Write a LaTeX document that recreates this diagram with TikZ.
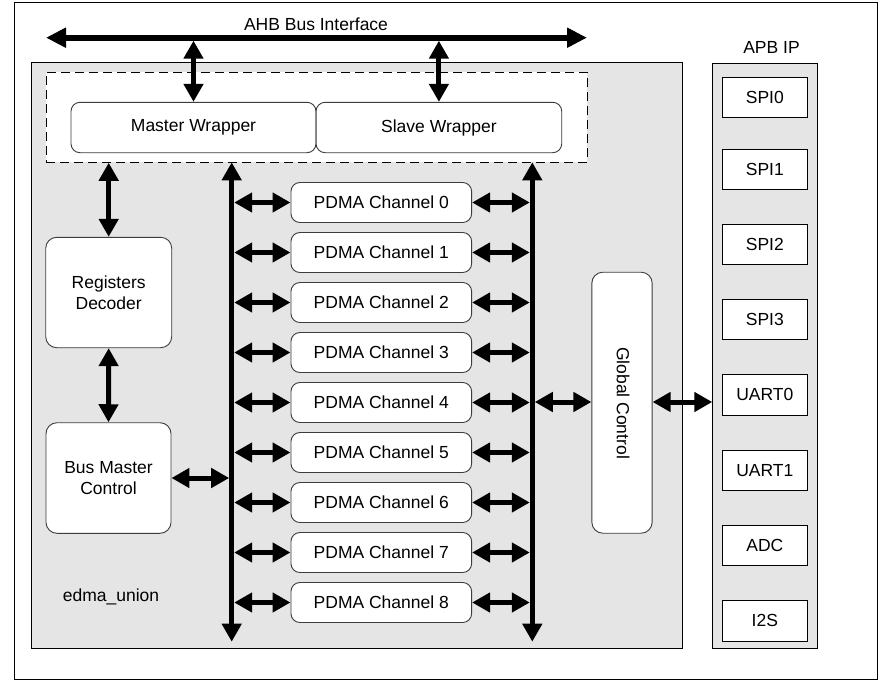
\documentclass[tikz,border=0pt]{standalone}
\usepackage{fontspec}
\setmainfont{Liberation Sans}
\usetikzlibrary{arrows.meta}
\definecolor{bggray}{RGB}{229,229,229}
\definecolor{edgegray}{RGB}{60,60,60}
\begin{document}
\begin{tikzpicture}[x=1pt,y=-1pt,
  font=\fontsize{17.5}{21}\selectfont,
  rbox/.style={draw=edgegray, line width=0.9pt, fill=white, rounded corners=9pt, inner sep=0pt, align=center},
  sbox/.style={draw=black, line width=1pt, fill=white, inner sep=0pt, minimum width=85pt, minimum height=40pt},
  arr/.style={line width=5pt, {Triangle[length=18pt,width=19pt]}-{Triangle[length=18pt,width=19pt]}},
  busarr/.style={line width=6pt, {Triangle[length=20pt,width=19pt]}-{Triangle[length=20pt,width=19pt]}},
  frame/.style={draw=black, line width=1pt},
]
\useasboundingbox (0,0) rectangle (889,688);
% outer frame
\draw[frame] (14,2) rectangle (877,679.5);
% containers
\draw[frame, fill=bggray] (31.5,62.3) rectangle (682.3,648.3);
\draw[frame, fill=bggray] (712.3,63) rectangle (817.3,648.3);
\node (apblabel) at (771.5,47) {APB IP};
\node (ahblabel) at (316,24) {AHB Bus Interface};
\node (edma) at (111,597) {edma\_union};
% dashed wrapper area
\node[draw=black, dash pattern=on 9pt off 5pt, fill=white, line width=0.9pt, minimum width=541pt, minimum height=90pt, inner sep=0pt] (wrap) at (316.5,117.3) {};
\node[rbox, minimum width=245pt, minimum height=50.4pt] (mw) at (193.5,127.5) {Master Wrapper};
\node[rbox, minimum width=245.7pt, minimum height=50.4pt] (sw) at (438.9,127.5) {Slave Wrapper};
% left blocks
\node[rbox, rounded corners=11pt, minimum width=126pt, minimum height=110.4pt] (reg) at (108.7,292.5) {Registers\\Decoder};
\node[rbox, rounded corners=11pt, minimum width=125pt, minimum height=110.6pt] (bmc) at (108.5,478) {Bus Master\\Control};
% global control
\node[rbox, rounded corners=11pt, minimum width=60.3pt, minimum height=261pt] (gc) at (622,402.7) {};
\node[rotate=-90] (gctext) at (623,403) {Global Control};
% APB items
\node[sbox] (spi0) at (764.8,97.3) {SPI0};
\node[sbox] (spi1) at (764.8,169.3) {SPI1};
\node[sbox] (spi2) at (764.8,244.3) {SPI2};
\node[sbox] (spi3) at (764.8,319.3) {SPI3};
\node[sbox, minimum height=41pt] (uart0) at (764.8,394.5) {UART0};
\node[sbox] (uart1) at (764.8,470.5) {UART1};
\node[sbox] (adc) at (764.8,545.3) {ADC};
\node[sbox, minimum height=41pt] (i2s) at (764.8,620.5) {I2S};
% bus coordinates
\coordinate (ahbL) at (46,37.7);
\coordinate (ahbR) at (587,37.7);
\coordinate (lbT) at (231.7,162.3);
\coordinate (lbB) at (231.7,641.7);
\coordinate (rbT) at (532.3,162.3);
\coordinate (rbB) at (532.3,641.7);
\coordinate (apbW) at (712.3,402);
% buses
\draw[busarr] (ahbL) -- (ahbR);
\draw[arr, shorten >=3pt] (mw.north) -- (mw.north |- ahbL);
\draw[arr, shorten >=3pt] (sw.north) -- (sw.north |- ahbL);
\draw[arr] (lbT) -- (lbB);
\draw[arr] (rbT) -- (rbB);
% left chain
\draw[arr] (reg.north |- wrap.south) -- (reg.north);
\draw[arr] (reg.south) -- (bmc.north);
\draw[arr, shorten >=2.5pt] (bmc.east) -- (bmc.east -| lbT);
% channels
\foreach \i in {0,...,8} {
  \node[rbox, minimum width=180.7pt, minimum height=40pt] (ch\i) at (381.3,202.5+50*\i) {PDMA Channel \i};
  \draw[arr, shorten <=2.5pt] (lbT |- ch\i.west) -- (ch\i.west);
  \draw[arr, shorten >=2.5pt] (ch\i.east) -- (rbT |- ch\i.east);
}
% global control links
\draw[arr, shorten <=2.5pt] (rbT |- apbW) -- (gc.west |- apbW);
\draw[arr] (gc.east |- apbW) -- (apbW);
\end{tikzpicture}
\end{document}
